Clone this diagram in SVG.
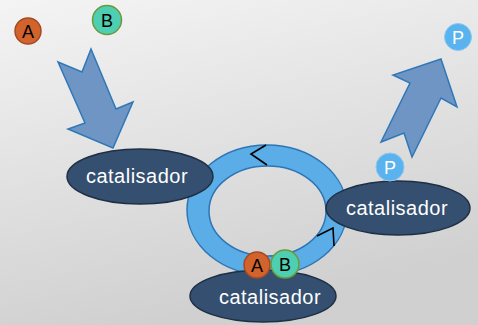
<svg xmlns="http://www.w3.org/2000/svg" width="478" height="325" viewBox="0 0 478 325">
<defs>
<linearGradient id="bg" x1="0" y1="0" x2="0.3" y2="1">
<stop offset="0" stop-color="#f4f4f4"/>
<stop offset="1" stop-color="#d0d0d0"/>
</linearGradient>
<style>
.cat{fill:#344f6f;stroke:#1f2f44;stroke-width:1.5}
.cattxt{fill:#ffffff;font-family:"Liberation Sans",Arial,sans-serif;font-size:20px;text-anchor:middle;letter-spacing:0.5px}
.arrow{fill:#6f95c5;stroke:#2f78b8;stroke-width:1.5;stroke-linejoin:miter}
.mol{font-family:"Liberation Sans",Arial,sans-serif;font-size:18px;text-anchor:middle}
.a{fill:#d2632d;stroke:#a34a25;stroke-width:1.5}
.b{fill:#4ecfb2;stroke:#6b9a3c;stroke-width:1.5}
.p{fill:#5ab3ee;stroke:#8cc8f2;stroke-width:1}
.chev{fill:none;stroke:#000;stroke-width:1.6}
</style>
</defs>
<rect width="478" height="325" fill="url(#bg)"/>

<g id="cycle">
<path d="M187,210 A80,65 0 1,0 347,210 A80,65 0 1,0 187,210 Z M209,211 A58.5,45 0 1,1 326,211 A58.5,45 0 1,1 209,211 Z" fill="#5aade6" fill-rule="evenodd" stroke="#2e75b6" stroke-width="1.5"/>
</g>

<g id="connectors">
<polygon class="arrow" points="58,62 82,72 91,49 116,109 133,102 113,148 68,129 85,123"/>
<polygon class="arrow" points="441,59 457,107 441,98 412,157 404,133 381,142 410,83 393,75"/>
<polyline class="chev" points="266,145 251,154 267,165"/>
<polyline class="chev" points="317,236 333,228 334,246"/>
</g>

<g id="catalisador-left">
<ellipse class="cat" cx="140" cy="176.5" rx="73" ry="27.5"/>
<text class="cattxt" x="137" y="183">catalisador</text>
</g>

<g id="catalisador-right">
<ellipse class="cat" cx="398" cy="208" rx="72" ry="27"/>
<text class="cattxt" x="397" y="215">catalisador</text>
</g>

<g id="catalisador-bottom">
<ellipse class="cat" cx="263" cy="296" rx="73" ry="26"/>
<text class="cattxt" x="270" y="304">catalisador</text>
</g>

<g id="molA-top">
<circle class="a" cx="28" cy="31" r="13"/>
<text class="mol" x="28" y="37.5" fill="#000">A</text>
</g>
<g id="molB-top">
<circle class="b" cx="107" cy="20" r="14.5"/>
<text class="mol" x="107" y="26.5" fill="#000">B</text>
</g>
<g id="molA-bottom">
<circle class="a" cx="257" cy="265" r="13"/>
<text class="mol" x="257" y="271.5" fill="#000">A</text>
</g>
<g id="molB-bottom">
<circle class="b" cx="285" cy="264" r="14"/>
<text class="mol" x="285" y="270.5" fill="#000">B</text>
</g>
<g id="molP-top">
<circle class="p" cx="458" cy="37" r="13.5"/>
<text class="mol" x="458" y="43.5" fill="#fff">P</text>
</g>
<g id="molP-mid">
<circle class="p" cx="390" cy="167" r="14"/>
<text class="mol" x="390" y="173.5" fill="#fff">P</text>
</g>
</svg>
